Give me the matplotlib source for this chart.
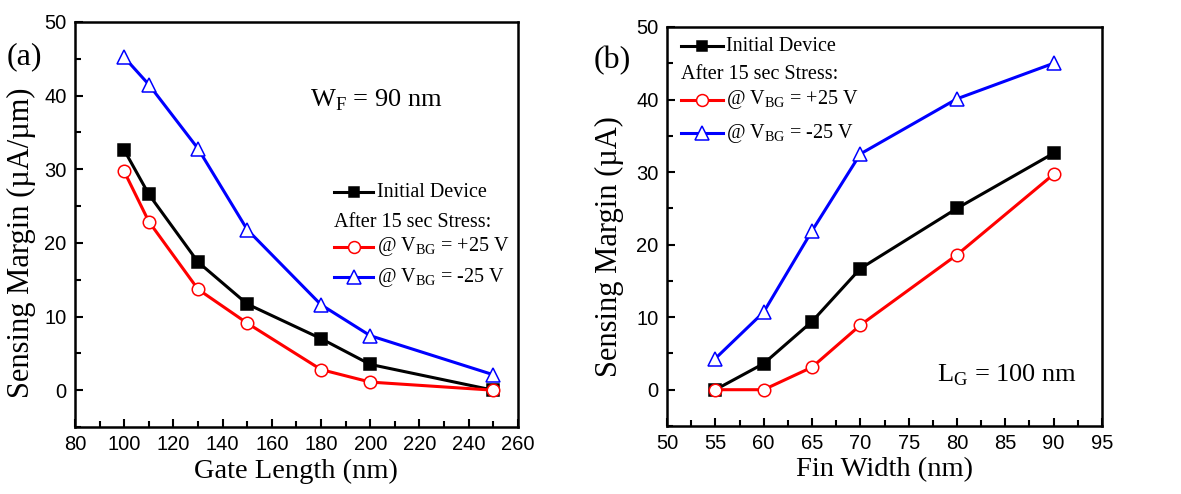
import matplotlib
matplotlib.use("Agg")
import matplotlib.pyplot as plt
from matplotlib.ticker import MultipleLocator

# Data
gate_length = [100, 110, 130, 150, 180, 200, 250]
gl_initial = [32.6, 26.6, 17.4, 11.7, 7.0, 3.5, 0.0]
gl_pos25 = [29.7, 22.9, 13.7, 9.1, 2.8, 1.1, 0.0]
gl_neg25 = [45.2, 41.5, 32.8, 21.8, 11.6, 7.4, 2.1]

fin_width = [55, 60, 65, 70, 80, 90]
fw_initial = [0.0, 3.6, 9.4, 16.7, 25.0, 32.6]
fw_pos25 = [0.0, 0.0, 3.1, 8.9, 18.6, 29.7]
fw_neg25 = [4.3, 10.7, 21.9, 32.5, 40.1, 45.0]

SERIF = "Liberation Serif"
SANS = "Liberation Sans"
plt.rcParams["mathtext.fontset"] = "custom"
plt.rcParams["mathtext.rm"] = SERIF

fig = plt.figure(figsize=(11.81, 4.94), dpi=100)
axa = fig.add_axes([0.0635, 0.1356, 0.375, 0.820])
axb = fig.add_axes([0.5648, 0.1377, 0.3683, 0.8077])

styles = [
    dict(color="black", marker="s", markerfacecolor="black", markeredgecolor="black", markersize=8),
    dict(color="red", marker="o", markerfacecolor="white", markeredgecolor="red", markersize=9),
    dict(color="blue", marker="^", markerfacecolor="white", markeredgecolor="blue", markersize=10.5),
]

def style_axes(ax, xlim, xmaj, xmin, xlabel, ylabel, ylab_xy):
    ax.set_xlim(*xlim)
    ax.set_ylim(-5, 50)
    ax.xaxis.set_major_locator(MultipleLocator(xmaj))
    ax.xaxis.set_minor_locator(MultipleLocator(xmin))
    ax.yaxis.set_major_locator(MultipleLocator(10))
    ax.yaxis.set_minor_locator(MultipleLocator(5))
    ax.tick_params(which="both", direction="in", top=False, right=False, width=1.5)
    ax.tick_params(which="major", length=6, labelsize=14.5, pad=6)
    ax.tick_params(which="minor", length=4)
    for lab in ax.get_xticklabels() + ax.get_yticklabels():
        lab.set_fontfamily(SANS)
    for s in ax.spines.values():
        s.set_linewidth(1.8)
    ax.set_xlabel(xlabel, fontfamily=SERIF, fontsize=20.5, labelpad=3)
    ax.set_ylabel(ylabel, fontfamily=SERIF, fontsize=22)
    ax.yaxis.set_label_coords(*ylab_xy)

def draw_series(ax, x, ys):
    for y, st in zip(ys, styles):
        ax.plot(x, y, linewidth=2.2, markeredgewidth=1.1, **st)

def legend(ax, x0, x1, xt, rows):
    labels = ["Initial Device", None,
              r"@ V$_{\mathregular{BG}}$ = +25 V", r"@ V$_{\mathregular{BG}}$ = -25 V"]
    for i, (yy, lab) in enumerate(zip(rows, labels)):
        if lab is None:
            ax.text(x0, yy, "After 15 sec Stress:", transform=ax.transAxes,
                    fontfamily=SERIF, fontsize=14.5, va="center", ha="left")
            continue
        st = styles[[0, None, 1, 2][i]]
        ax.plot([x0, x1], [yy, yy], transform=ax.transAxes, linewidth=2.2,
                color=st["color"], clip_on=False)
        ax.plot([(x0 + x1) / 2], [yy], transform=ax.transAxes, linestyle="none",
                marker=st["marker"], markerfacecolor=st["markerfacecolor"],
                markeredgecolor=st["markeredgecolor"], markersize=st["markersize"] * 0.95,
                markeredgewidth=1.1, clip_on=False)
        ax.text(xt, yy, lab, transform=ax.transAxes, fontfamily=SERIF,
                fontsize=14.5, va="center", ha="left")

# Panel (a)
draw_series(axa, gate_length, [gl_initial, gl_pos25, gl_neg25])
style_axes(axa, (80, 260), 20, 10, "Gate Length (nm)", "Sensing Margin (\u00b5A/\u00b5m)",
           (-0.088, 0.455))
legend(axa, 0.585, 0.673, 0.682, [0.580, 0.504, 0.445, 0.370])
axa.text(0.53, 0.807, r"W$_{\mathregular{F}}$ = 90 nm", transform=axa.transAxes,
         fontfamily=SERIF, fontsize=19, va="center", ha="left")

# Panel (b)
draw_series(axb, fin_width, [fw_initial, fw_pos25, fw_neg25])
style_axes(axb, (50, 95), 5, 2.5, "Fin Width (nm)", "Sensing Margin (\u00b5A)",
           (-0.1, 0.45))
legend(axb, 0.032, 0.129, 0.136, [0.952, 0.880, 0.817, 0.734])
axb.text(0.62, 0.128, r"L$_{\mathregular{G}}$ = 100 nm", transform=axb.transAxes,
         fontfamily=SERIF, fontsize=19, va="center", ha="left")

fig.text(0.006, 0.885, "(a)", fontfamily=SERIF, fontsize=23, va="center", ha="left")
fig.text(0.503, 0.878, "(b)", fontfamily=SERIF, fontsize=23, va="center", ha="left")

fig.savefig("out.png", dpi=100)
